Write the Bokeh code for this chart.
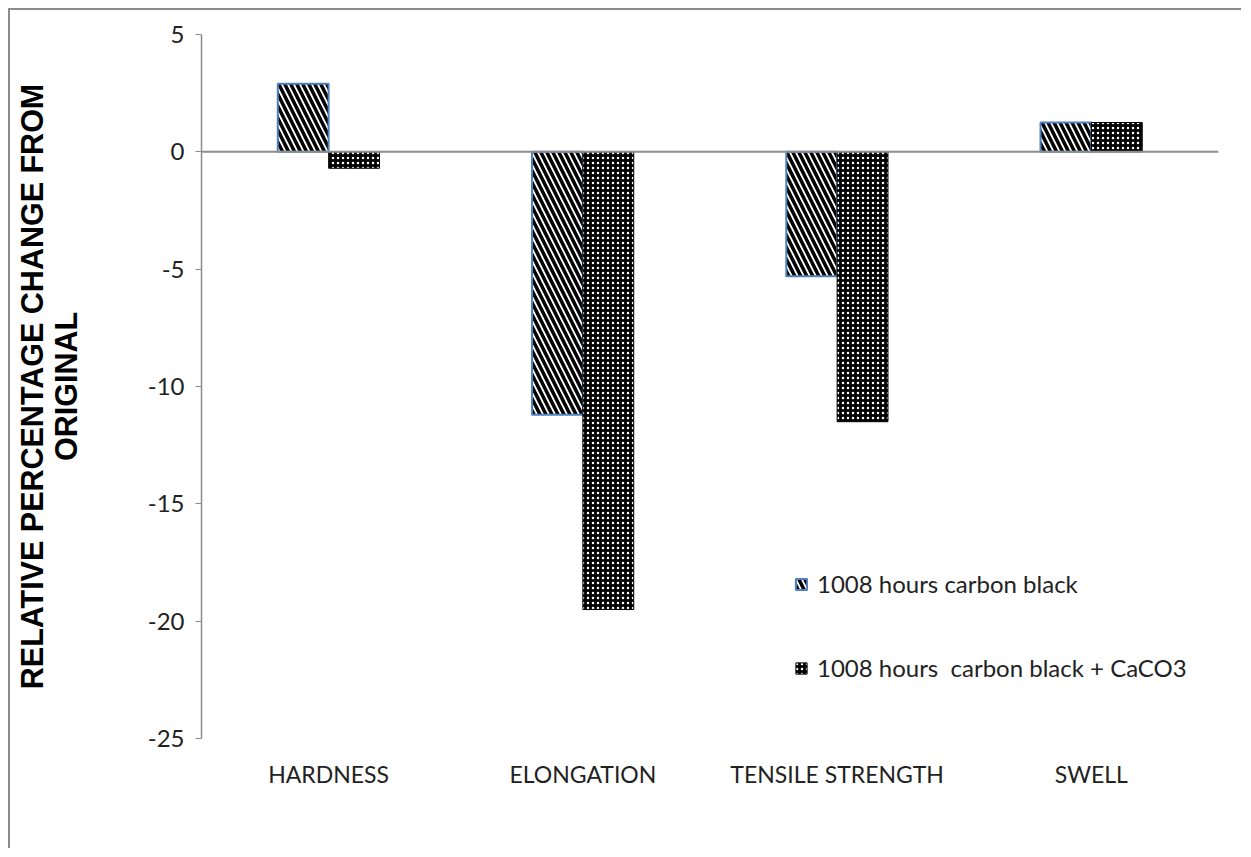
from bokeh.plotting import figure
from bokeh.models import FactorRange, Range1d, Span, Legend, LegendItem, FixedTicker, PrintfTickFormatter
from bokeh.transform import dodge
from bokeh.models import ColumnDataSource
from bokeh.embed import file_html
from bokeh.resources import INLINE

categories = ["HARDNESS", "ELONGATION", "TENSILE STRENGTH", "SWELL"]
carbon_black = [2.9, -11.2, -5.3, 1.25]
carbon_black_caco3 = [-0.7, -19.5, -11.5, 1.25]
series_names = ["1008 hours carbon black", "1008 hours  carbon black + CaCO3"]
y_ticks = [-25, -20, -15, -10, -5, 0, 5]

src = ColumnDataSource(dict(cat=categories, cb=carbon_black, cc=carbon_black_caco3))

p = figure(x_range=FactorRange(*categories, range_padding=0), y_range=Range1d(-25, 5),
           width=1233, height=840, output_backend="svg", toolbar_location=None,
           min_border_left=191, min_border_right=25, min_border_top=24, min_border_bottom=112)
p.styles = {"margin-left": "8px", "margin-top": "8px",
            "border-left": "2px solid #8c8c8c", "border-top": "2px solid #8c8c8c"}
p.outline_line_color = None
p.grid.grid_line_color = None

r1 = p.vbar(x=dodge("cat", -0.1, range=p.x_range), top="cb", width=0.2, source=src,
            fill_color="white", line_color="#4F81BD", line_width=2,
            hatch_pattern="\\", hatch_color="black", hatch_scale=12, hatch_weight=3.5)
r2 = p.vbar(x=dodge("cat", 0.1, range=p.x_range), top="cc", width=0.2, source=src,
            fill_color="black", line_color="black", line_width=1,
            hatch_pattern=".", hatch_color="white", hatch_scale=5, hatch_weight=0.5)

p.add_layout(Span(location=0, dimension="width", line_color="#8c8c8c", line_width=2))

# y axis
ya = p.yaxis[0]
ya.ticker = FixedTicker(ticks=y_ticks)
ya.formatter = PrintfTickFormatter(format="%d")
ya.axis_line_color = "#8c8c8c"
ya.axis_line_width = 1.5
ya.major_tick_line_color = "#8c8c8c"
ya.major_tick_out = 6
ya.major_tick_in = 0
ya.minor_tick_line_color = None
ya.major_label_text_font = "Lato"
ya.major_label_text_font_size = "24px"
ya.major_label_text_color = "#222222"
ya.major_label_standoff = 11
ya.axis_label = "RELATIVE PERCENTAGE CHANGE FROM\nORIGINAL"
ya.axis_label_text_font = "Liberation Sans"
ya.axis_label_text_font_style = "bold"
ya.axis_label_text_font_size = "30.5px"
ya.axis_label_text_line_height = 1.0
ya.axis_label_text_color = "black"
ya.axis_label_standoff = 62

xa = p.xaxis[0]
xa.axis_line_color = None
xa.major_tick_line_color = None
xa.minor_tick_line_color = None
xa.major_label_text_font = "Lato"
xa.major_label_text_font_size = "23px"
xa.major_label_text_color = "#222222"
xa.major_label_standoff = 15

legend = Legend(items=[LegendItem(label=series_names[0], renderers=[r1]),
                       LegendItem(label=series_names[1], renderers=[r2])],
                location=(593, 56), orientation="vertical",
                glyph_width=14, glyph_height=14, label_height=20, spacing=55,
                label_standoff=9, padding=0, margin=0,
                label_text_font="Lato", label_text_font_size="24px", label_text_color="#222222",
                border_line_color=None, background_fill_alpha=0)
p.add_layout(legend)

open("out.html", "w").write(file_html(p, INLINE))
